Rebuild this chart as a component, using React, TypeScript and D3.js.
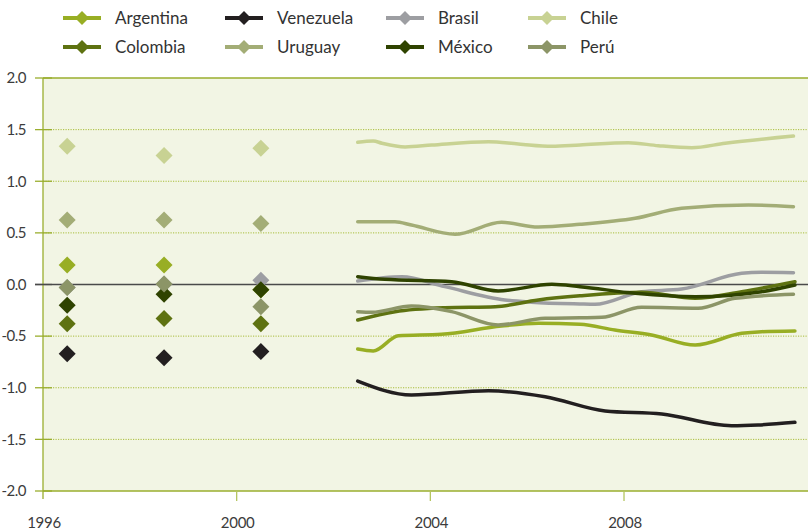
import React from "react";
import * as d3 from "d3";

const countries = ["Argentina", "Venezuela", "Brasil", "Chile", "Colombia", "Uruguay", "México", "Perú"];
const colors = ["#98ae24", "#231f20", "#9d9ea2", "#c8d293", "#5e7211", "#a3ad76", "#2f4300", "#8c9567"];

const diamondYears = [1996.5, 1998.5, 2000.5];
const diamondArgentina = [0.19, 0.19, -0.05];
const diamondVenezuela = [-0.67, -0.71, -0.65];
const diamondBrasil = [-0.03, 0.005, 0.04];
const diamondChile = [1.34, 1.25, 1.32];
const diamondColombia = [-0.38, -0.33, -0.38];
const diamondUruguay = [0.625, 0.625, 0.59];
const diamondMexico = [-0.2, -0.095, -0.05];
const diamondPeru = [-0.03, 0.005, -0.215];

const lineArgentina: [number, number][] = [[2002.5, -0.625], [2002.82, -0.644], [2003.34, -0.496], [2004.23, -0.482], [2005.47, -0.402], [2006.23, -0.376], [2007.09, -0.385], [2007.81, -0.441], [2008.57, -0.489], [2009.47, -0.586], [2010.43, -0.473], [2010.84, -0.457], [2011.53, -0.45]];
const lineVenezuela: [number, number][] = [[2002.5, -0.935], [2003.61, -1.07], [2005.2, -1.029], [2006.37, -1.087], [2007.61, -1.225], [2008.78, -1.254], [2010.22, -1.368], [2010.77, -1.361], [2011.53, -1.335]];
const lineBrasil: [number, number][] = [[2002.5, 0.034], [2003.41, 0.076], [2004.3, -0.021], [2005.54, -0.15], [2006.09, -0.172], [2007.09, -0.189], [2007.4, -0.192], [2008.36, -0.07], [2009.19, -0.044], [2010.43, 0.108], [2010.84, 0.118], [2011.5, 0.114]];
const lineChile: [number, number][] = [[2002.5, 1.377], [2002.82, 1.39], [2003.0, 1.368], [2003.48, 1.332], [2004.03, 1.351], [2005.2, 1.383], [2005.82, 1.361], [2006.51, 1.338], [2007.09, 1.351], [2008.09, 1.373], [2008.71, 1.344], [2009.4, 1.325], [2010.09, 1.368], [2011.5, 1.438]];
const lineColombia: [number, number][] = [[2002.5, -0.344], [2003.27, -0.263], [2004.3, -0.225], [2005.34, -0.215], [2006.23, -0.15], [2007.09, -0.11], [2008.36, -0.076], [2009.47, -0.134], [2010.43, -0.07], [2011.53, 0.027]];
const lineUruguay: [number, number][] = [[2002.5, 0.608], [2003.27, 0.608], [2003.61, 0.576], [2004.51, 0.486], [2005.47, 0.602], [2006.23, 0.557], [2007.09, 0.583], [2008.23, 0.641], [2009.19, 0.738], [2010.57, 0.77], [2011.5, 0.753]];
const lineMexico: [number, number][] = [[2002.5, 0.076], [2003.06, 0.05], [2004.44, 0.027], [2005.4, -0.063], [2006.51, 0.002], [2007.09, -0.021], [2008.23, -0.085], [2009.47, -0.118], [2010.84, -0.07], [2011.53, -0.005]];
const linePeru: [number, number][] = [[2002.5, -0.263], [2002.79, -0.269], [2003.61, -0.208], [2004.44, -0.263], [2005.4, -0.392], [2006.37, -0.327], [2007.09, -0.322], [2007.54, -0.318], [2008.36, -0.221], [2009.53, -0.23], [2010.29, -0.134], [2011.5, -0.095]];

const yTicks = [2, 1.5, 1, 0.5, 0, -0.5, -1, -1.5, -2];
const xTicks = [1996, 2000, 2004, 2008];

const diamondSeries = [diamondArgentina, diamondVenezuela, diamondBrasil, diamondChile, diamondColombia, diamondUruguay, diamondMexico, diamondPeru];
const lineSeries = [lineArgentina, lineVenezuela, lineBrasil, lineChile, lineColombia, lineUruguay, lineMexico, linePeru];

const W = 808, H = 530;
const left = 43, right = 808, top = 78, bottom = 491;
const FONT = "Lato, 'Open Sans', sans-serif";

const legendMarkerX = [63, 225, 386, 528];
const legendRowY = [18, 47];

function diamondPath(cx: number, cy: number, r: number) {
  return `M${cx},${cy - r}L${cx + r},${cy}L${cx},${cy + r}L${cx - r},${cy}Z`;
}

export default function App() {
  const x = d3.scaleLinear().domain([1996, 2011.8]).range([left, right]);
  const y = d3.scaleLinear().domain([-2, 2]).range([bottom, top]);
  const line = d3.line<[number, number]>().x(d => x(d[0])).y(d => y(d[1])).curve(d3.curveMonotoneX);

  return (
    <svg width={W} height={H} style={{ position: "absolute", left: 0, top: 0, display: "block" }} fontFamily={FONT}>
      <rect x={left} y={top} width={right - left} height={bottom - top} fill="#f2f5e4" />
      {yTicks.map(t => {
        const yy = y(t);
        const isEdge = t === 2 || t === -2;
        return (
          <g key={"y" + t}>
            {t !== 0 && !isEdge && (
              <line x1={left} x2={right} y1={yy} y2={yy} stroke="#a9bd3a" strokeWidth={1} strokeDasharray="1.2,1.3" />
            )}
            {isEdge && <line x1={left} x2={right} y1={yy} y2={yy} stroke="#9aae2e" strokeWidth={1.3} />}
            <line x1={35} x2={52} y1={yy} y2={yy} stroke={t === 0 ? "#4a4a4a" : "#9aae2e"} strokeWidth={1.3} />
            <text x={26} y={yy} dy="0.35em" textAnchor="end" fontSize={15} fill="#3c3c3c" letterSpacing="-0.5">
              {t.toFixed(1)}
            </text>
          </g>
        );
      })}
      <line x1={left} x2={left} y1={top} y2={bottom + 8} stroke="#9aae2e" strokeWidth={1.3} />
      {xTicks.map(t => (
        <g key={"x" + t}>
          {t !== 1996 && <line x1={x(t)} x2={x(t)} y1={bottom} y2={bottom + 10} stroke="#b5c560" strokeWidth={1.3} />}
          <text x={x(t) + 1} y={528} textAnchor="middle" fontSize={15} fill="#3c3c3c" letterSpacing="-0.3">
            {t}
          </text>
        </g>
      ))}
      <line x1={35} x2={right} y1={y(0)} y2={y(0)} stroke="#4a4a4a" strokeWidth={1.5} />
      {lineSeries.map((s, i) => (
        <path key={"l" + i} d={line(s) || ""} fill="none" stroke={colors[i]} strokeWidth={3.5} strokeLinecap="round" strokeLinejoin="round" />
      ))}
      {diamondSeries.map((s, i) => (
        <g key={"d" + i}>
          {s.map((v, j) => (
            <path key={j} d={diamondPath(x(diamondYears[j]), y(v), 8.5)} fill={colors[i]} />
          ))}
        </g>
      ))}
      {countries.map((c, i) => {
        const mx = legendMarkerX[i % 4];
        const my = legendRowY[Math.floor(i / 4)];
        return (
          <g key={"lg" + i}>
            <line x1={mx} x2={mx + 38} y1={my} y2={my} stroke={colors[i]} strokeWidth={4} />
            <path d={diamondPath(mx + 19, my, 7)} fill={colors[i]} />
            <text x={mx + 52} y={my} dy="0.35em" fontSize={17} fill="#333">
              {c}
            </text>
          </g>
        );
      })}
    </svg>
  );
}
